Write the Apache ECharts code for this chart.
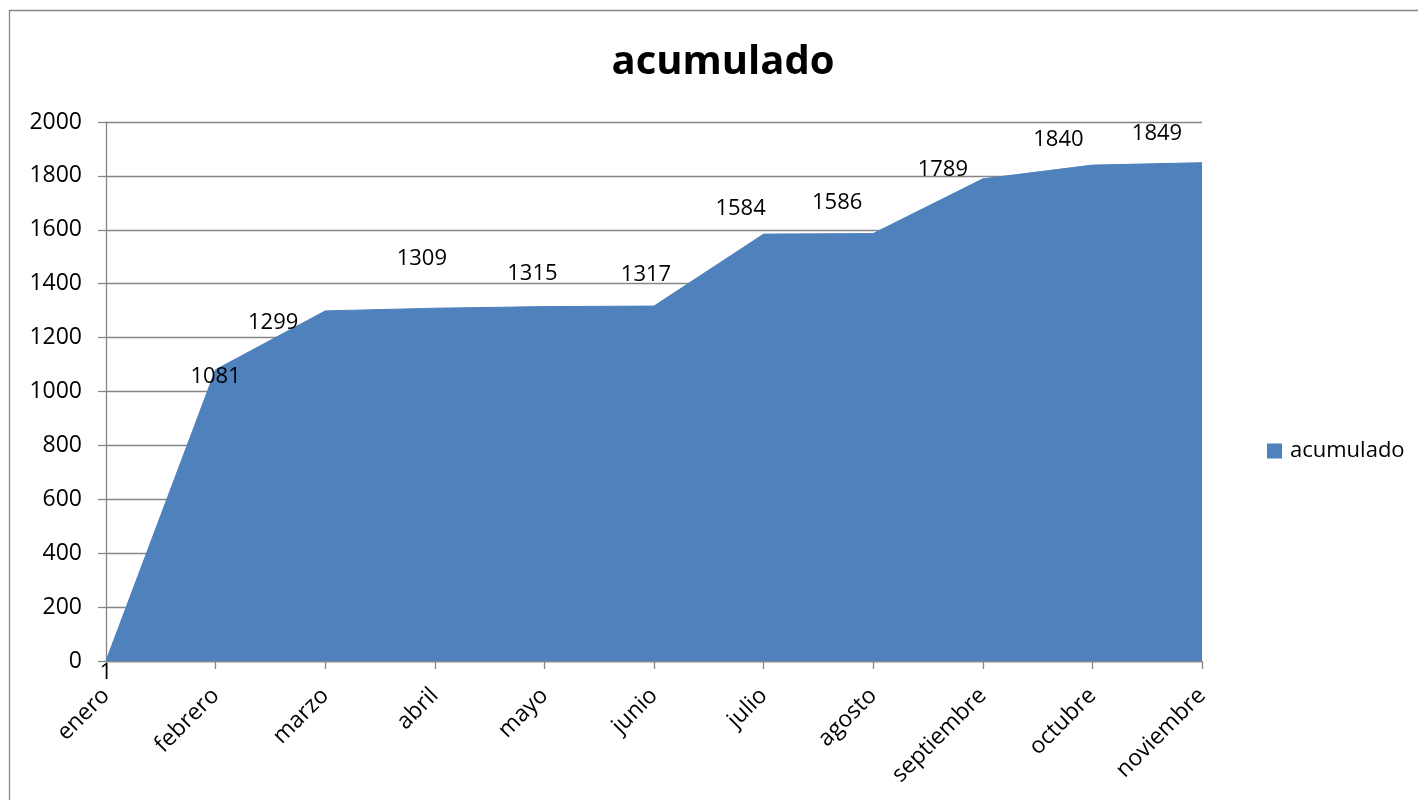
<!DOCTYPE html>
<html>
<head>
<meta charset="utf-8">
<script src="https://cdn.jsdelivr.net/npm/echarts@6/dist/echarts.min.js"></script>
<style>
html,body{margin:0;padding:0;background:#fff;}
#chart{width:1418px;height:800px;}
</style>
</head>
<body>
<div id="chart"></div>
<script>
const categories = ['enero','febrero','marzo','abril','mayo','junio','julio','agosto','septiembre','octubre','noviembre'];
const acumulado = [1, 1081, 1299, 1309, 1315, 1317, 1584, 1586, 1789, 1840, 1849];
const yTicks = { min: 0, max: 2000, interval: 200 };

// label placement (style), mimicking the original's label positions
const labelOffsets = [[0,12],[0,7],[-52,12],[-13,-49],[-12,-33],[-8,-31],[-23,-25],[-36,-31],[-40,-9],[-34,-25],[-45,-29]];

const FONT = '"Open Sans", sans-serif';
const chart = echarts.init(document.getElementById('chart'));
chart.setOption({
  animation: false,
  backgroundColor: '#fff',
  graphic: [{
    type: 'rect', silent: true, z: -1,
    shape: { x: 9.5, y: 10.5, width: 1600, height: 1000 },
    style: { fill: 'none', stroke: '#878787', lineWidth: 1.3 }
  }],
  title: {
    text: 'acumulado', left: 718, top: 38, textAlign: 'center',
    textStyle: { fontFamily: FONT, fontSize: 40, fontWeight: 'bold', color: '#000' }
  },
  legend: {
    data: ['acumulado'], left: 1267, top: 440, orient: 'vertical', padding: 0,
    itemWidth: 15, itemHeight: 15, icon: 'rect',
    textStyle: { fontFamily: FONT, fontSize: 22, color: '#000', padding: [0,0,0,3] }
  },
  grid: { left: 106, right: 216, top: 122, bottom: 139, containLabel: false },
  xAxis: {
    type: 'category', data: categories, boundaryGap: false,
    axisLine: { show: true, lineStyle: { color: '#868686', width: 1.3 } },
    axisTick: { show: true, alignWithLabel: true, length: 8, lineStyle: { color: '#868686', width: 1.3 } },
    axisLabel: { rotate: 45, margin: 31, fontFamily: FONT, fontSize: 23, color: '#000', interval: 0 },
    splitLine: { show: false }
  },
  yAxis: {
    type: 'value', min: yTicks.min, max: yTicks.max, interval: yTicks.interval,
    axisLine: { show: true, lineStyle: { color: '#868686', width: 1.3 } },
    axisTick: { show: true, length: 8, lineStyle: { color: '#868686', width: 1.3 } },
    axisLabel: { margin: 24, fontFamily: FONT, fontSize: 23, color: '#000', formatter: v => String(v) },
    splitLine: { show: true, lineStyle: { color: '#868686', width: 1.3 } }
  },
  series: [{
    name: 'acumulado', type: 'line',
    data: acumulado.map((v, i) => ({
      value: v,
      label: { offset: labelOffsets[i] }
    })),
    symbol: 'circle', symbolSize: 0.1, showSymbol: true,
    lineStyle: { color: '#4F81BD', width: 1 },
    itemStyle: { color: '#4F81BD' },
    areaStyle: { color: '#4F81BD', opacity: 1 },
    label: { show: true, position: 'inside', fontFamily: FONT, fontSize: 22, color: '#000' },
    z: 3
  }]
});
</script>
</body>
</html>
